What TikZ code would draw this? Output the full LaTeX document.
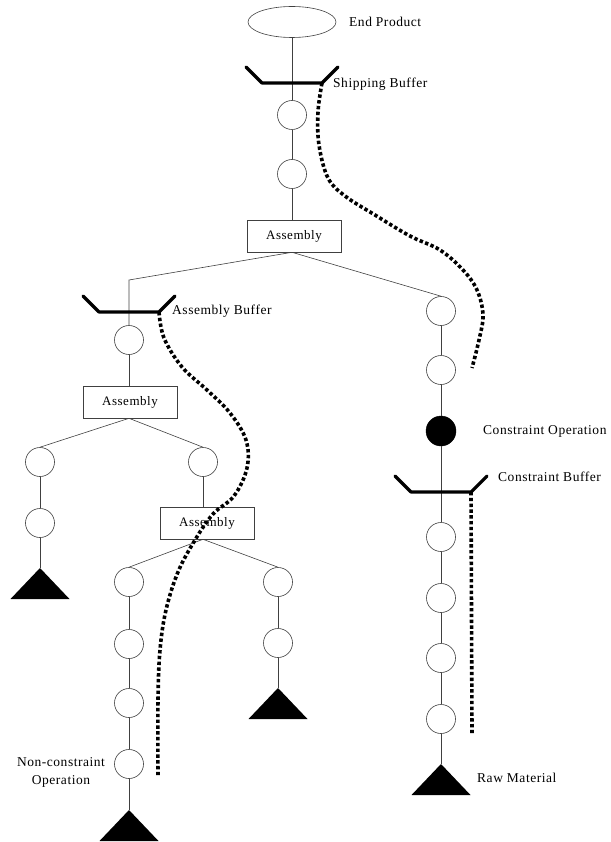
\documentclass[tikz,border=0pt]{standalone}
\usepackage{fontspec}
\setmainfont{Liberation Serif}[LetterSpace=4]
\usetikzlibrary{shapes.geometric}
\begin{document}
\begin{tikzpicture}[x=1pt,y=-1pt,
  conn/.style={draw=black!75, line width=0.6pt},
  op/.style={circle, draw=black!75, line width=0.6pt, fill=white, minimum size=29pt, inner sep=0pt},
  cop/.style={circle, draw=black, fill=black, minimum size=30pt, inner sep=0pt},
  asm/.style={draw=black!75, line width=0.6pt, fill=white, minimum width=94pt, minimum height=32pt, inner sep=0pt, font=\fontsize{13}{15}\selectfont},
  prod/.style={ellipse, draw=black!75, line width=0.6pt, minimum width=88pt, minimum height=31pt, inner sep=0pt},
  lbl/.style={anchor=west, inner sep=0pt, font=\fontsize{13.5}{16}\selectfont},
  bufline/.style={line width=3.2pt, line join=round, line cap=round},
  flow/.style={line width=3.6pt, dash pattern=on 3.4pt off 2.4pt},
  buffer/.pic={
    \draw[bufline] (-46,-16) -- (-30,0) -- (30,0) -- (46,-16);
    \coordinate (-out) at (30,0);
  },
  rawmat/.pic={
    \fill (0,0) -- (-29.5,31) -- (29.5,31) -- cycle;
  }
]
\useasboundingbox (0,0) rectangle (610,842);

% ---- nodes: top chain ----
\node[prod] (ep) at (292,22) {};
\node[op] (s1) at (292,115) {};
\node[op] (s2) at (292,174) {};
\node[asm] (A1) at (294,236) {Assembly};

% ---- left sub-assembly ----
\coordinate (j1) at (129,280);
\node[op] (a1) at (129,340) {};
\node[asm] (A2) at (130,402) {Assembly};
\node[op] (b1) at (40,462) {};
\node[op] (b2) at (40,523) {};
\coordinate (t1) at (40,568);
\node[op] (c1) at (203,462) {};
\node[asm] (A3) at (207,523) {Assembly};
\node[op] (d1) at (129,582) {};
\node[op] (d2) at (129,644) {};
\node[op] (d3) at (129,703) {};
\node[op] (d4) at (129,764) {};
\coordinate (t2) at (129,810);
\node[op] (e1) at (278,582) {};
\node[op] (e2) at (278,643) {};
\coordinate (t3) at (278,688);

% ---- right branch with the constraint ----
\node[op] (r1) at (441,311) {};
\node[op] (r2) at (441,370) {};
\node[cop] (cn) at (441,431) {};
\node[op] (r3) at (441,537) {};
\node[op] (r4) at (441,598) {};
\node[op] (r5) at (441,658) {};
\node[op] (r6) at (441,719) {};
\coordinate (t4) at (441,764);

% ---- connectors ----
\path[conn] (ep) -- (s1);
\path[conn] (s1) -- (s2);
\path[conn] (s2) -- (s2 |- A1.north);
\path[conn] (s2 |- A1.south) -- (j1) -- (a1);
\path[conn] (s2 |- A1.south) -- (r1.north);
\path[conn] (a1) -- (a1 |- A2.north);
\path[conn] (a1 |- A2.south) -- (b1.north);
\path[conn] (a1 |- A2.south) -- (c1.north);
\path[conn] (b1) -- (b2);
\path[conn] (b2) -- (t1);
\path[conn] (c1) -- (c1 |- A3.north);
\path[conn] (c1 |- A3.south) -- (d1.north);
\path[conn] (c1 |- A3.south) -- (e1.north);
\path[conn] (d1) -- (d2);
\path[conn] (d2) -- (d3);
\path[conn] (d3) -- (d4);
\path[conn] (d4) -- (t2);
\path[conn] (e1) -- (e2);
\path[conn] (e2) -- (t3);
\path[conn] (r1) -- (r2);
\path[conn] (r2) -- (cn);
\path[conn] (cn) -- (r3);
\path[conn] (r3) -- (r4);
\path[conn] (r4) -- (r5);
\path[conn] (r5) -- (r6);
\path[conn] (r6) -- (t4);

% ---- raw material triangles ----
\pic at (t1) {rawmat};
\pic at (t2) {rawmat};
\pic at (t3) {rawmat};
\pic at (t4) {rawmat};

% ---- buffers ----
\pic (sb) at (292,83) {buffer};
\pic (ab) at (129,312) {buffer};
\pic (cb) at (441,492) {buffer};

% ---- buffer lead times (rope) ----
\coordinate (se) at (472,368);
\coordinate (ae) at (158,777);
\coordinate (ce) at (472,733);
\draw[flow] plot[smooth, tension=0.6] coordinates {(sb-out) (318,112) (319,145) (328,178) (345,196) (375,215) (410,236) (440,250) (463,270) (477,290) (483,315) (479,340) (se)};
\draw[flow] plot[smooth, tension=0.6] coordinates {(ab-out) (164,338) (182,367) (207,390) (230,413) (246,440) (247,468) (234,496) (213,514) (195,540) (178,572) (166,610) (160,650) (158,700) (ae)};
\draw[flow] (cb-out) -- (ce);

% ---- labels ----
\node[lbl] (lEP) at (349,22) {End Product};
\node[lbl] (lSB) at (333,84) {Shipping Buffer};
\node[lbl] (lAB) at (172,311) {Assembly Buffer};
\node[lbl] (lCO) at (483,431) {Constraint Operation};
\node[lbl] (lCB) at (498,477) {Constraint Buffer};
\node[lbl] (lRM) at (477,778) {Raw Material};
\node[inner sep=0pt, align=center, font=\fontsize{13.5}{18}\selectfont] (lNC) at (61,772) {Non-constraint\\Operation};
\end{tikzpicture}
\end{document}
